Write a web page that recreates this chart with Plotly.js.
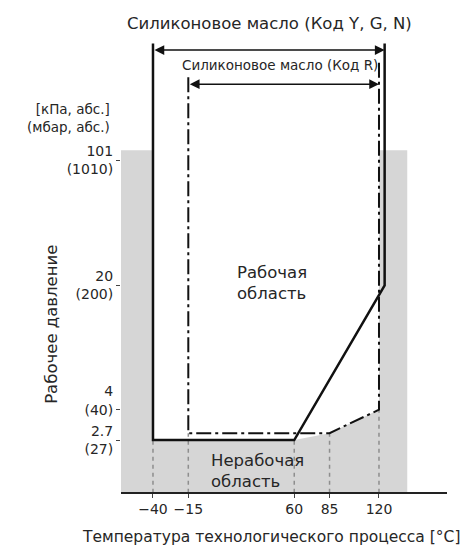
<!DOCTYPE html>
<html>
<head>
<meta charset="utf-8">
<script src="https://cdn.plot.ly/plotly-3.0.1.min.js"></script>
<style>html,body{margin:0;padding:0;background:#fff;}#chart{width:469px;height:545px;}</style>
</head>
<body>
<div id="chart"></div>
<script>
// ---- data ----
const xTicks = [-40, -15, 60, 85, 120];
const xTickText = ['−40', '−15', '60', '85', '120'];
const yTicks = [2.7, 4, 20, 101];
const yTickText = ['2.7<br>(27)', '4<br>(40)<br>\u00a0', '20<br>(200)', '101<br>(1010)'];

// Silicone oil code Y, G, N – solid boundary
const ygnTemp = [-40, -40, 60, 124, 124];
const ygnPress = [458, 2.7, 2.7, 20, 458];

// Silicone oil code R – dash-dot boundary
const rTemp = [-15, -15, 85, 120, 120];
const rPress = [296, 2.95, 2.95, 4, 370];

// Non-working (shaded) region
const shadeTemp = [-70, -70, -40, -40, 60, 85, 120, 120, 140, 140];
const shadePress = [1, 115, 115, 2.7, 2.7, 2.95, 4, 115, 115, 1];

// Dashed guide lines from the axis up to the boundary
const guideTemp = [-40, -15, 60, 85, 120];
const guideTop = [2.7, 2.95, 2.7, 2.95, 4];

// Range arrows
const ygnRange = [-40, 124];
const rRange = [-15, 120];

// ---- build ----
const gx = [], gy = [];
guideTemp.forEach((t, i) => { gx.push(t, t, null); gy.push(1, guideTop[i], null); });

const FONT = 'DejaVu Sans, Verdana, sans-serif';
const TXT = '#262626';

const traces = [
  {x: shadeTemp, y: shadePress, mode: 'lines', fill: 'toself', fillcolor: '#d6d6d6',
   line: {width: 0, color: '#d6d6d6'}, hoverinfo: 'skip', showlegend: false},
  {x: gx, y: gy, mode: 'lines', line: {color: '#8e8e8e', width: 1.5, dash: '4px,4px'},
   hoverinfo: 'skip', showlegend: false, connectgaps: false},
  {x: rTemp, y: rPress, mode: 'lines', name: 'Код R',
   line: {color: '#111', width: 2, dash: '15px,4px,3px,4px'}, showlegend: false},
  {x: ygnTemp, y: ygnPress, mode: 'lines', name: 'Код Y, G, N',
   line: {color: '#111', width: 2.5}, showlegend: false}
];

function arrow(range, py) {
  return {x: range[1], y: Math.log10(py), xref: 'x', yref: 'y',
    ax: range[0], axref: 'x', ay: 0, ayref: 'pixel', text: '', showarrow: true,
    arrowhead: 2, arrowside: 'end+start', arrowsize: 1.3, arrowwidth: 1.5,
    arrowcolor: '#111', standoff: 0, startstandoff: 0};
}

const layout = {
  width: 469, height: 545,
  margin: {l: 121, r: 22, t: 40, b: 53},
  paper_bgcolor: '#fff', plot_bgcolor: '#fff',
  showlegend: false,
  font: {family: FONT, size: 14, color: TXT},
  xaxis: {
    range: [-62.65, 168.15], showgrid: false, zeroline: false,
    showline: true, linecolor: '#222', linewidth: 1.5,
    tickmode: 'array', tickvals: xTicks, ticktext: xTickText,
    ticks: 'outside', ticklen: 4, tickcolor: '#444', tickwidth: 1,
    tickfont: {family: FONT, size: 14, color: TXT}
  },
  yaxis: {
    type: 'log', range: [0.1393, 2.680], showgrid: false, zeroline: false,
    showline: false,
    tickmode: 'array', tickvals: yTicks, ticktext: yTickText,
    ticks: 'outside', ticklen: 4, tickcolor: '#444', tickwidth: 1,
    tickfont: {family: FONT, size: 14, color: TXT}
  },
  annotations: [
    {text: 'Силиконовое масло (Код Y, G, N)', xref: 'paper', yref: 'paper',
     x: 0.457, y: 1.0376, xanchor: 'center', yanchor: 'middle', showarrow: false,
     font: {family: FONT, size: 16.5, color: TXT}},
    arrow(ygnRange, 420),
    {text: 'Силиконовое масло (Код R)', xref: 'x', yref: 'y',
     x: 50, y: Math.log10(347), xanchor: 'center', yanchor: 'middle', showarrow: false,
     font: {family: FONT, size: 13.5, color: TXT}},
    arrow(rRange, 270),
    {text: '[кПа, абс.]<br>(мбар, абс.)', xref: 'paper', yref: 'paper',
     x: -0.0276, y: 0.827, xanchor: 'right', yanchor: 'middle', align: 'right', showarrow: false,
     font: {family: FONT, size: 13.5, color: TXT}},
    {text: 'Рабочее давление', xref: 'paper', yref: 'paper', textangle: -90,
     x: -0.2117, y: 0.372, xanchor: 'center', yanchor: 'middle', showarrow: false,
     font: {family: FONT, size: 16.5, color: TXT}},
    {text: 'Температура технологического процесса [°С]', xref: 'paper', yref: 'paper',
     x: 0.46, y: -0.0996, xanchor: 'center', yanchor: 'middle', showarrow: false,
     font: {family: FONT, size: 15.5, color: TXT}},
    {text: 'Рабочая<br>область', xref: 'x', yref: 'y', x: 18, y: 1.313,
     xanchor: 'left', yanchor: 'middle', align: 'left', showarrow: false,
     font: {family: FONT, size: 16.5, color: TXT}},
    {text: 'Нерабочая<br>область', xref: 'x', yref: 'y', x: 0, y: 0.257,
     xanchor: 'left', yanchor: 'middle', align: 'left', showarrow: false,
     font: {family: FONT, size: 16.5, color: TXT}}
  ]
};

Plotly.newPlot('chart', traces, layout, {displayModeBar: false, staticPlot: true});
</script>
</body>
</html>
